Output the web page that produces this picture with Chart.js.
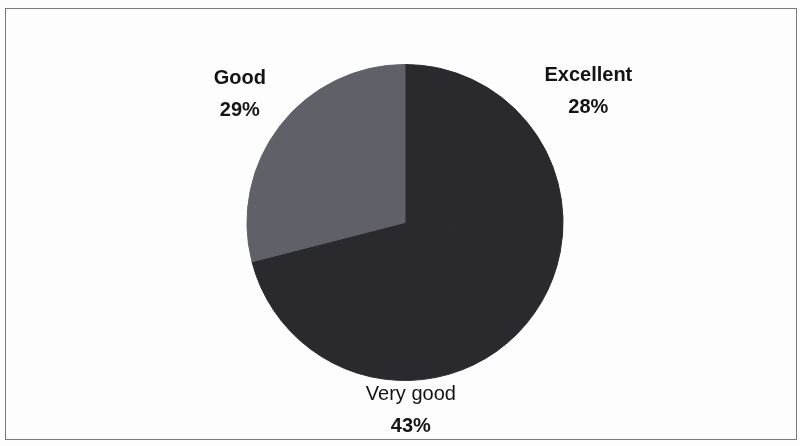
<!DOCTYPE html>
<html>
<head>
<meta charset="utf-8">
<script src="https://cdn.jsdelivr.net/npm/chart.js@4.4.0/dist/chart.umd.min.js"></script>
<style>
  html, body { margin: 0; padding: 0; background: #fdfdfd; }
  #wrap { position: relative; width: 800px; height: 446px; }
  #frame {
    position: absolute; left: 5px; top: 8px; width: 792px; height: 432px;
    border: 1.5px solid #7a7a7a; box-sizing: border-box; pointer-events: none;
  }
  canvas { position: absolute; left: 0; top: 0; }
</style>
</head>
<body>
<div id="wrap">
  <canvas id="chart" width="800" height="446"></canvas>
  <div id="frame"></div>
</div>
<script>
  // Ratings share (%), clockwise from 12 o'clock
  const CATEGORIES = ["Excellent", "Very good", "Good"];
  const VALUES = [28, 43, 29];
  const COLORS = ["#2a2a2e", "#2a2a2e", "#606168"];

  // Outside labels: name on first line, percentage below
  const outsideLabels = {
    id: "outsideLabels",
    afterDatasetsDraw(chart, args, opts) {
      const ctx = chart.ctx;
      const meta = chart.getDatasetMeta(0);
      ctx.save();
      ctx.fillStyle = "#141414";
      ctx.textAlign = "center";
      ctx.textBaseline = "middle";
      meta.data.forEach((arc, i) => {
        const mid = (arc.startAngle + arc.endAngle) / 2;
        const d = opts.distance[i];
        const x = arc.x + Math.cos(mid) * d + opts.shiftX[i];
        const y = arc.y + Math.sin(mid) * d + opts.shiftY[i];
        ctx.font = (opts.nameWeight[i]) + " 20px 'Liberation Sans', Arial, sans-serif";
        ctx.fillText(CATEGORIES[i], x, y - 16);
        ctx.font = "bold 20px 'Liberation Sans', Arial, sans-serif";
        ctx.fillText(VALUES[i] + "%", x, y + 16);
      });
      ctx.restore();
    }
  };

  new Chart(document.getElementById("chart"), {
    type: "pie",
    data: {
      labels: CATEGORIES,
      datasets: [{
        data: VALUES,
        backgroundColor: COLORS,
        borderColor: COLORS,
        borderWidth: 1,
      }],
    },
    options: {
      responsive: false,
      animation: false,
      layout: { padding: { left: 10, right: 0, top: 64, bottom: 65 } },
      plugins: {
        legend: { display: false },
        tooltip: { enabled: false },
        outsideLabels: {
          distance: [225, 186, 209],
          shiftX: [10, 0, 0],
          shiftY: [12, 2, 0],
          nameWeight: ["bold", "normal", "bold"],
        },
      },
    },
    plugins: [outsideLabels],
  });
</script>
</body>
</html>
